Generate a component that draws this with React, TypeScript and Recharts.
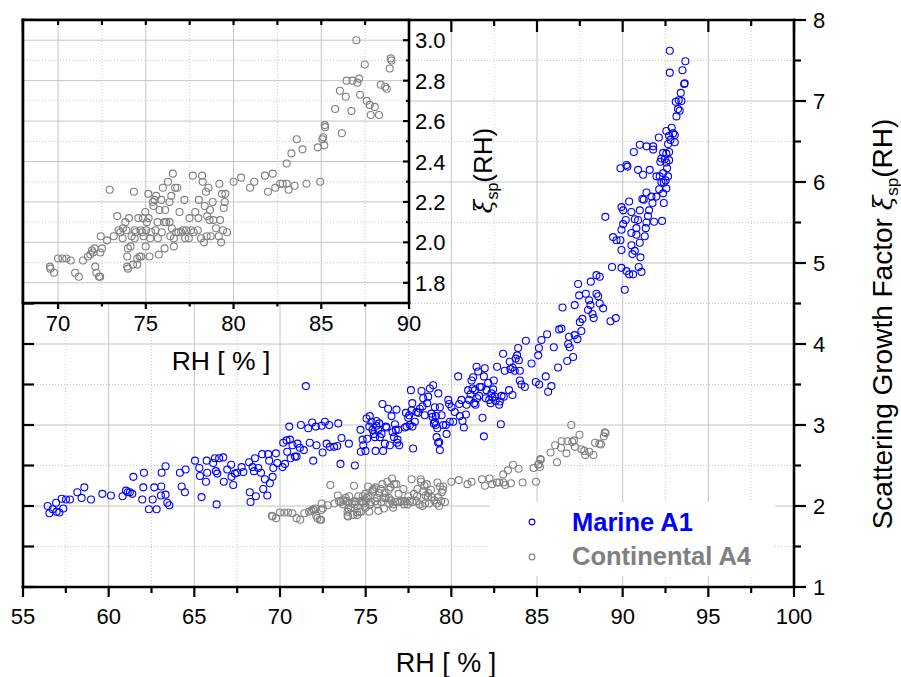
import React from 'react';
import { ScatterChart, Scatter, XAxis, YAxis, ReferenceLine, ReferenceDot, CartesianGrid } from 'recharts';

const FONT = '"Liberation Sans", Arial, Helvetica, sans-serif';

// ---------- series ----------
const seriesNames = ['Marine A1', 'Continental A4'];
const seriesColors = ['#0000FF', '#808080'];

// [RH %, scattering growth factor]
const marineA1: [number, number][] = [
  [56.44, 2.0], [56.54, 1.91], [56.73, 1.96], [56.93, 2.04], [56.96, 1.93], [57.12, 1.92], [57.26, 2.09], [57.35, 1.97],
  [57.51, 2.08], [57.74, 2.08], [58.17, 2.17], [58.42, 2.1], [58.58, 2.23], [58.97, 2.08], [59.63, 2.15], [60.13, 2.13],
  [60.81, 2.12], [61.01, 2.19], [61.11, 2.17], [61.24, 2.17], [61.38, 2.15], [61.44, 2.36], [61.96, 2.08], [62.02, 2.23],
  [62.06, 2.41], [62.35, 1.96], [62.57, 2.08], [62.66, 2.23], [62.8, 1.96], [63.05, 2.13], [63.07, 2.24], [63.09, 2.41],
  [63.32, 2.49], [63.32, 2.14], [63.42, 2.04], [63.54, 2.01], [64.16, 2.41], [64.26, 2.24], [64.45, 2.17], [64.49, 2.45],
  [65.04, 2.56], [65.29, 2.47], [65.33, 2.37], [65.42, 2.11], [65.68, 2.3], [65.72, 2.56], [65.75, 2.41], [66.1, 2.53],
  [66.2, 2.59], [66.26, 2.43], [66.3, 2.02], [66.34, 2.4], [66.45, 2.59], [66.69, 2.6], [66.72, 2.3], [66.92, 2.45],
  [67.15, 2.51], [67.17, 2.36], [67.27, 2.26], [67.37, 2.4], [67.5, 2.41], [67.76, 2.48], [67.86, 2.42], [68.2, 2.54],
  [68.24, 2.17], [68.28, 2.05], [68.4, 2.48], [68.48, 2.43], [68.54, 2.59], [68.59, 2.12], [68.73, 2.47], [68.89, 2.41],
  [68.96, 2.64], [69.02, 2.21], [69.12, 2.33], [69.26, 2.13], [69.31, 2.64], [69.37, 2.56], [69.41, 2.28], [69.57, 2.36],
  [69.61, 2.47], [69.76, 2.65], [69.84, 2.53], [70.15, 2.48], [70.19, 2.78], [70.29, 2.52], [70.38, 2.81], [70.42, 2.67],
  [70.54, 2.98], [70.58, 2.82], [70.62, 2.59], [70.73, 2.75], [70.87, 2.61], [70.97, 2.61], [71.02, 2.77], [71.16, 2.72],
  [71.22, 3.0], [71.39, 2.69], [71.51, 3.48], [71.65, 2.96], [71.74, 2.78], [71.88, 3.03], [71.94, 2.56], [72.09, 2.98],
  [72.13, 2.75], [72.43, 2.99], [72.49, 2.66], [72.62, 3.04], [72.72, 2.77], [72.87, 3.0], [72.91, 2.73], [73.16, 2.73],
  [73.34, 2.74], [73.4, 3.02], [73.53, 2.52], [73.59, 2.84], [74.02, 2.77], [74.37, 2.5], [74.7, 2.94], [74.72, 2.67],
  [74.82, 2.82], [74.86, 2.75], [74.99, 2.68], [75.05, 3.08], [75.09, 2.83], [75.21, 2.98], [75.24, 3.11], [75.4, 2.94],
  [75.48, 2.89], [75.58, 2.68], [75.63, 3.05], [75.73, 2.94], [75.83, 2.85], [75.98, 3.26], [76.02, 2.68], [76.12, 2.77],
  [76.22, 2.97], [76.31, 3.2], [76.41, 2.75], [76.51, 3.11], [76.57, 2.91], [76.71, 3.01], [76.8, 3.19], [76.86, 2.82],
  [76.9, 2.94], [76.96, 2.75], [77.29, 2.97], [77.35, 3.15], [77.54, 3.12], [77.64, 3.43], [77.72, 3.27], [77.73, 2.98],
  [77.77, 2.71], [77.97, 3.16], [78.26, 3.42], [78.32, 3.23], [78.36, 3.33], [78.45, 3.12], [78.65, 3.35], [78.75, 3.45],
  [78.94, 3.49], [78.98, 3.02], [79.04, 3.22], [79.1, 3.11], [79.14, 2.85], [79.18, 2.96], [79.24, 3.39], [79.29, 2.79],
  [79.33, 2.69], [79.52, 3.0], [79.72, 2.89], [79.82, 3.31], [79.87, 3.26], [80.11, 3.04], [80.2, 3.16],
  [75.34, 3.04], [75.54, 2.85], [75.63, 2.99], [75.79, 3.02], [75.93, 2.89], [76.18, 2.98], [76.65, 2.85], [76.76, 2.94],
  [76.84, 2.78], [77.39, 2.98], [77.48, 3.09], [77.58, 3.0], [77.68, 3.18], [77.87, 3.04], [78.07, 3.15], [78.16, 3.2],
  [78.59, 3.27], [78.84, 3.14], [78.9, 3.1], [79.04, 3.04], [79.1, 3.0], [79.23, 2.78], [79.33, 3.22], [79.43, 3.12],
  [79.68, 3.0], [79.91, 3.04], [80.01, 3.22],
  [80.4, 3.6], [80.46, 3.26], [80.5, 3.11], [80.59, 3.31], [80.65, 3.05], [80.73, 2.97], [80.85, 3.13], [80.89, 3.25],
  [80.98, 3.43], [81.04, 3.31], [81.12, 3.38], [81.18, 3.55], [81.24, 3.45], [81.27, 3.59], [81.33, 3.27], [81.37, 3.43],
  [81.41, 3.25], [81.47, 3.72], [81.51, 3.33], [81.57, 3.66], [81.62, 3.36], [81.66, 3.47], [81.76, 3.47], [81.82, 3.09],
  [81.9, 3.6], [81.9, 2.86], [81.95, 3.7], [82.01, 3.33], [82.05, 3.43], [82.15, 3.52], [82.21, 3.31], [82.29, 3.27],
  [82.34, 3.39], [82.4, 3.34], [82.44, 3.44], [82.48, 3.55], [82.54, 3.35], [82.58, 3.3], [82.67, 3.72], [82.79, 3.25],
  [82.83, 3.29], [82.89, 3.01], [82.93, 3.36], [83.02, 3.88], [83.06, 3.35], [83.12, 3.67], [83.37, 3.43], [83.41, 3.78],
  [83.45, 3.69], [83.57, 3.37], [83.57, 3.71], [83.7, 3.67], [83.76, 3.82], [83.84, 3.86], [83.9, 3.95], [83.94, 3.8],
  [84.0, 3.67], [84.0, 3.55], [84.09, 3.5], [84.29, 3.47], [84.35, 4.04], [84.68, 3.76], [84.93, 3.53], [85.07, 3.86],
  [85.11, 3.95], [85.13, 3.5], [85.26, 4.05], [85.51, 3.6], [85.59, 4.12], [85.65, 3.41], [85.84, 3.48], [85.98, 3.96],
  [86.23, 3.71], [86.29, 4.18], [86.43, 4.19], [86.49, 4.45], [86.76, 3.79], [86.82, 4.0], [86.87, 4.09], [86.91, 3.96],
  [87.11, 3.84], [87.2, 4.11], [87.2, 4.48], [87.36, 4.06], [87.46, 4.6], [87.5, 4.27], [87.59, 4.16], [87.65, 4.31],
  [87.85, 4.62], [87.98, 4.42], [88.04, 4.54], [88.12, 4.48], [88.24, 4.37], [88.31, 4.32], [88.47, 4.62], [88.57, 4.59],
  [88.66, 4.5], [88.86, 4.44], [89.29, 4.28], [89.6, 4.32],
  [92.75, 7.62], [93.66, 7.49], [92.75, 7.35], [93.49, 7.38], [93.62, 7.22], [93.59, 7.21], [93.39, 7.1], [93.1, 6.99],
  [93.27, 7.01], [93.43, 7.0], [93.23, 6.9], [93.33, 6.88], [93.14, 6.81], [92.86, 6.67], [92.94, 6.6], [93.04, 6.58],
  [92.55, 6.63], [92.71, 6.57], [92.79, 6.52], [93.04, 6.49], [92.65, 6.47], [92.11, 6.55], [91.0, 6.46], [91.39, 6.44],
  [91.78, 6.44], [91.78, 6.4], [90.65, 6.37], [92.71, 6.37], [92.36, 6.36], [92.55, 6.35], [92.26, 6.29], [92.46, 6.28],
  [92.71, 6.27], [92.2, 6.25], [92.55, 6.24], [90.22, 6.21], [89.87, 6.17], [90.28, 6.19], [90.9, 6.15], [91.58, 6.15],
  [91.19, 6.09], [92.36, 6.11], [92.59, 6.17], [91.97, 6.07], [92.16, 6.07], [92.65, 6.07], [92.26, 6.0], [92.4, 5.99],
  [92.51, 6.02], [92.55, 5.92], [92.13, 5.91], [92.36, 5.86], [91.39, 5.87], [91.68, 5.82], [91.97, 5.82], [91.15, 5.79],
  [91.23, 5.78], [91.74, 5.74], [92.4, 5.74], [90.38, 5.76], [89.93, 5.69], [90.03, 5.65], [90.51, 5.63], [91.0, 5.65],
  [91.54, 5.65], [91.48, 5.58], [88.99, 5.57], [90.71, 5.54], [90.18, 5.53], [90.03, 5.48], [90.9, 5.53], [91.83, 5.51],
  [92.3, 5.52], [91.39, 5.5], [89.93, 5.41], [90.8, 5.43], [91.35, 5.43], [90.51, 5.37], [89.44, 5.32], [89.64, 5.28],
  [89.87, 5.28], [90.8, 5.35], [91.29, 5.33], [91.0, 5.25], [90.51, 5.22], [89.93, 5.16], [90.71, 5.15], [90.57, 5.11],
  [91.04, 5.07], [89.38, 4.95], [89.93, 4.94], [90.22, 4.9], [90.94, 4.95], [91.1, 4.89], [90.61, 4.86], [90.38, 4.86],
  [90.12, 4.67], [88.47, 4.85], [88.66, 4.83], [88.14, 4.77], [87.4, 4.74],
];

const continentalA4: [number, number][] = [
  [69.53, 1.88], [69.56, 1.87], [69.77, 1.85], [70.0, 1.92], [70.25, 1.92], [70.47, 1.92], [70.72, 1.91], [70.97, 1.85],
  [71.18, 1.83], [71.42, 1.91], [71.7, 1.93], [71.84, 1.94], [71.93, 1.96], [72.08, 1.97], [71.99, 1.95], [72.12, 1.88],
  [72.18, 1.85], [72.33, 1.83], [72.4, 1.83], [72.41, 1.95], [72.5, 1.97], [72.43, 2.03], [72.79, 2.01], [72.94, 2.26],
  [73.17, 2.03], [73.37, 2.13], [73.45, 2.06], [73.55, 2.05], [73.68, 2.02], [73.7, 2.07], [73.83, 2.1], [73.89, 2.06],
  [73.94, 1.88], [73.98, 1.87], [73.94, 1.93], [73.98, 1.97], [74.04, 2.12], [74.13, 1.98], [74.19, 2.03], [74.27, 1.89],
  [74.32, 2.25], [74.36, 2.06], [74.36, 2.02], [74.42, 2.05], [74.51, 1.92], [74.51, 1.89], [74.57, 2.12], [74.64, 1.93],
  [74.7, 2.06], [74.74, 1.93], [74.8, 2.05], [74.83, 2.12], [74.87, 2.03], [74.97, 2.15], [74.99, 1.98], [75.02, 2.06],
  [75.06, 2.1], [75.14, 2.24], [75.16, 2.12], [75.21, 1.93], [75.25, 2.02], [75.31, 2.05], [75.4, 2.2], [75.44, 2.18],
  [75.5, 2.21], [75.55, 2.06], [75.59, 2.23], [75.67, 2.1], [75.69, 2.02], [75.74, 1.94], [75.78, 2.16], [75.88, 2.21],
  [75.91, 2.05], [75.97, 2.27], [76.05, 2.1], [76.07, 1.97], [76.1, 2.16], [76.16, 2.1], [76.26, 2.3], [76.35, 2.2],
  [76.35, 2.1], [76.39, 2.03], [76.45, 2.23], [76.48, 2.07], [76.54, 2.34], [76.6, 1.98], [76.6, 2.02], [76.67, 2.27],
  [76.79, 2.27], [76.73, 2.05], [76.86, 2.05], [76.92, 2.15], [77.01, 2.05], [77.11, 2.06], [77.2, 2.21], [77.24, 2.02],
  [77.3, 2.06], [77.45, 2.02], [77.49, 2.12], [77.58, 2.06], [77.68, 2.33], [77.73, 2.05], [77.82, 2.15], [77.96, 2.06],
  [78.0, 2.12], [78.02, 2.21], [78.15, 2.02], [78.21, 2.33], [78.24, 2.3], [78.32, 2.0], [78.36, 2.18], [78.43, 2.25],
  [78.47, 2.03], [78.5, 2.13], [78.57, 2.27], [78.63, 2.11], [78.66, 2.16], [78.7, 2.03], [78.81, 2.2], [78.85, 2.11],
  [79.0, 2.07], [79.16, 2.03], [79.19, 2.29], [79.23, 2.11], [79.29, 2.0], [79.34, 2.24], [79.4, 2.06], [79.44, 2.17],
  [79.5, 2.2], [79.53, 2.24], [79.63, 2.05], [80.0, 2.3], [80.43, 2.32], [80.94, 2.27], [81.18, 2.3], [81.79, 2.33],
  [81.96, 2.25], [82.23, 2.34], [82.38, 2.27], [82.66, 2.29], [82.8, 2.29], [83.03, 2.39], [83.03, 2.29], [83.14, 2.26],
  [83.3, 2.44], [83.48, 2.28], [83.6, 2.51], [83.93, 2.46], [84.16, 2.29], [84.8, 2.47], [84.94, 2.3], [85.07, 2.51],
  [85.11, 2.52], [85.17, 2.48], [85.2, 2.58], [85.22, 2.57], [85.79, 2.66], [86.06, 2.75], [86.17, 2.54], [86.4, 2.72],
  [86.44, 2.8], [86.72, 2.65], [86.78, 2.8], [87.0, 3.0], [87.06, 2.79], [87.16, 2.81], [87.21, 2.73], [87.48, 2.88],
  [87.59, 2.7], [87.76, 2.68], [87.82, 2.63], [88.05, 2.67], [88.29, 2.63], [88.39, 2.78], [88.64, 2.77], [88.73, 2.76],
  [88.9, 2.86], [88.96, 2.91], [89.0, 2.9],
];

// ---------- axes ----------
const mainXDomain: [number, number] = [55, 100];
const mainYDomain: [number, number] = [1, 8];
const mainXMajor = [55, 60, 65, 70, 75, 80, 85, 90, 95, 100];
const mainXMinor = [57.5, 62.5, 67.5, 72.5, 77.5, 82.5, 87.5, 92.5, 97.5];
const mainYMajor = [1, 2, 3, 4, 5, 6, 7, 8];
const mainYMinor = [1.5, 2.5, 3.5, 4.5, 5.5, 6.5, 7.5];
const mainXGridMajor = [60, 65, 70, 75, 80, 85, 90, 95];
const mainYGridMajor = [2, 3, 4, 5, 6, 7];

const insetXDomain: [number, number] = [68, 90];
const insetYDomain: [number, number] = [1.7, 3.1];
const insetXMajor = [70, 75, 80, 85, 90];
const insetXMinor = [72.5, 77.5, 82.5, 87.5];
const insetYMajor = [1.8, 2.0, 2.2, 2.4, 2.6, 2.8, 3.0];
const insetYMinor = [1.9, 2.1, 2.3, 2.5, 2.7, 2.9];
const insetXGridMajor = [70, 75, 80, 85];

const xTitle = 'RH [ % ]';

const toPoints = (arr: [number, number][]) => arr.map(([x, y]) => ({ x, y }));
const marineData = toPoints(marineA1);
const contData = toPoints(continentalA4);

const makeLabel =
  (dx: number, dy: number, anchor: 'start' | 'middle' | 'end', fmt: (v: number) => string) =>
  (props: any) => {
    const { x, y, payload } = props;
    return (
      <text x={x + dx} y={y + dy} textAnchor={anchor} fontFamily={FONT} fontSize={22} fill="#000">
        {fmt(Number(payload.value))}
      </text>
    );
  };

const ring = (color: string, r: number) => (p: any) => (
  <circle cx={p.cx} cy={p.cy} r={r} fill="none" stroke={color} strokeWidth={1.1} />
);

// tick mark drawn at a scaled anchor point, pointing along (dx, dy)
const tickMark = (dx: number, dy: number, len: number) => (p: any) => (
  <line x1={p.cx} y1={p.cy} x2={p.cx + dx * len} y2={p.cy + dy * len} stroke="#000" strokeWidth={2.2} />
);

const axisLine = { stroke: '#000', strokeWidth: 2.6, strokeLinecap: 'square' as const };
const frameLine = { stroke: '#000', strokeWidth: 2.6, strokeLinecap: 'square' as const, ifOverflow: 'visible' as const };
const majorGrid = { stroke: '#c4c4c4', strokeWidth: 1 };
const minorGrid = { stroke: '#c8c8c8', strokeWidth: 1, strokeDasharray: '1 2' };

const intFmt = (v: number) => String(v);
const oneFmt = (v: number) => v.toFixed(1);

type TickSet = { axis: 'x' | 'y'; values: number[]; at: number; dx: number; dy: number; len: number };

const renderTicks = (sets: TickSet[], xId: string, yId: string, prefix: string) =>
  sets.flatMap((s, si) =>
    s.values.map((v) => (
      <ReferenceDot
        key={`${prefix}-${si}-${v}`}
        xAxisId={xId}
        yAxisId={yId}
        x={s.axis === 'x' ? v : s.at}
        y={s.axis === 'x' ? s.at : v}
        r={0}
        ifOverflow="visible"
        shape={tickMark(s.dx, s.dy, s.len)}
      />
    ))
  );

const mainTickSets: TickSet[] = [
  { axis: 'x', values: mainXMajor, at: mainYDomain[0], dx: 0, dy: 1, len: 10 },
  { axis: 'x', values: mainXMinor, at: mainYDomain[0], dx: 0, dy: 1, len: 6 },
  { axis: 'x', values: mainXMajor, at: mainYDomain[1], dx: 0, dy: 1, len: 12 },
  { axis: 'x', values: mainXMinor, at: mainYDomain[1], dx: 0, dy: 1, len: 6 },
  { axis: 'y', values: mainYMajor, at: mainXDomain[1], dx: 1, dy: 0, len: 12 },
  { axis: 'y', values: mainYMinor, at: mainXDomain[1], dx: 1, dy: 0, len: 7 },
  { axis: 'y', values: mainYMajor, at: mainXDomain[0], dx: 1, dy: 0, len: 11 },
  { axis: 'y', values: mainYMinor, at: mainXDomain[0], dx: 1, dy: 0, len: 11 },
];

const insetTickSets: TickSet[] = [
  { axis: 'x', values: insetXMajor, at: insetYDomain[0], dx: 0, dy: 1, len: 6 },
  { axis: 'x', values: insetXMinor, at: insetYDomain[0], dx: 0, dy: 1, len: 3.5 },
  { axis: 'x', values: insetXMajor, at: insetYDomain[1], dx: 0, dy: 1, len: 5 },
  { axis: 'x', values: insetXMinor, at: insetYDomain[1], dx: 0, dy: 1, len: 5 },
  { axis: 'y', values: insetYMajor, at: insetXDomain[1], dx: -1, dy: 0, len: 6 },
  { axis: 'y', values: insetYMinor, at: insetXDomain[1], dx: -1, dy: 0, len: 3 },
];

function MainChart() {
  return (
    <ScatterChart width={901} height={677} margin={{ top: 20, right: 0, bottom: 0, left: 23 }}>
      <XAxis xAxisId="b" dataKey="x" type="number" orientation="bottom" domain={mainXDomain} allowDataOverflow ticks={mainXMajor} interval={0} height={90} stroke="#000" tickSize={10} tickMargin={0} tickLine={false} axisLine={axisLine} tick={makeLabel(0, 27, 'middle', intFmt)} />
      <YAxis yAxisId="r" dataKey="y" type="number" orientation="right" domain={mainYDomain} allowDataOverflow ticks={mainYMajor} interval={0} width={107} stroke="#000" tickSize={12} tickMargin={0} tickLine={false} axisLine={axisLine} tick={makeLabel(7, 8, 'start', intFmt)} />
      {mainXMinor.map((v) => (
        <ReferenceLine key={'xm' + v} xAxisId="b" yAxisId="r" x={v} {...minorGrid} />
      ))}
      {mainYMinor.map((v) => (
        <ReferenceLine key={'ym' + v} xAxisId="b" yAxisId="r" y={v} {...minorGrid} />
      ))}
      {mainXGridMajor.map((v) => (
        <ReferenceLine key={'xM' + v} xAxisId="b" yAxisId="r" x={v} {...majorGrid} />
      ))}
      {mainYGridMajor.map((v) => (
        <ReferenceLine key={'yM' + v} xAxisId="b" yAxisId="r" y={v} {...majorGrid} />
      ))}
      <ReferenceLine xAxisId="b" yAxisId="r" y={mainYDomain[1]} {...frameLine} />
      <ReferenceLine xAxisId="b" yAxisId="r" x={mainXDomain[0]} {...frameLine} />
      {renderTicks(mainTickSets, 'b', 'r', 'mt')}
      <Scatter name={seriesNames[1]} data={contData} xAxisId="b" yAxisId="r" shape={ring(seriesColors[1], 3.5)} isAnimationActive={false} />
      <Scatter name={seriesNames[0]} data={marineData} xAxisId="b" yAxisId="r" shape={ring(seriesColors[0], 3.5)} isAnimationActive={false} />
    </ScatterChart>
  );
}

function InsetChart() {
  return (
    <ScatterChart width={520} height={400} margin={{ top: 20, right: 0, bottom: 0, left: 23 }}>
      <CartesianGrid xAxisId="ib" yAxisId="ir" fill="#ffffff" horizontal={false} vertical={false} />
      <XAxis xAxisId="ib" dataKey="x" type="number" orientation="bottom" domain={insetXDomain} allowDataOverflow ticks={insetXMajor} interval={0} height={97} stroke="#000" tickSize={6} tickMargin={0} tickLine={false} axisLine={axisLine} tick={makeLabel(0, 22, 'middle', intFmt)} />
      <YAxis yAxisId="ir" dataKey="y" type="number" orientation="right" domain={insetYDomain} allowDataOverflow ticks={insetYMajor} interval={0} width={111} stroke="#000" tickSize={0} tickMargin={0} tickLine={false} axisLine={axisLine} tick={makeLabel(6, 8, 'start', oneFmt)} />
      {insetXMinor.map((v) => (
        <ReferenceLine key={'ixm' + v} xAxisId="ib" yAxisId="ir" x={v} {...minorGrid} />
      ))}
      {insetYMinor.map((v) => (
        <ReferenceLine key={'iym' + v} xAxisId="ib" yAxisId="ir" y={v} {...minorGrid} />
      ))}
      {insetXGridMajor.map((v) => (
        <ReferenceLine key={'ixM' + v} xAxisId="ib" yAxisId="ir" x={v} {...majorGrid} />
      ))}
      {insetYMajor.map((v) => (
        <ReferenceLine key={'iyM' + v} xAxisId="ib" yAxisId="ir" y={v} {...majorGrid} />
      ))}
      <ReferenceLine xAxisId="ib" yAxisId="ir" y={insetYDomain[1]} {...frameLine} />
      <ReferenceLine xAxisId="ib" yAxisId="ir" x={insetXDomain[0]} {...frameLine} />
      {renderTicks(insetTickSets, 'ib', 'ir', 'it')}
      <Scatter name={seriesNames[1]} data={contData} xAxisId="ib" yAxisId="ir" shape={ring(seriesColors[1], 3.5)} isAnimationActive={false} />
    </ScatterChart>
  );
}

function Titles() {
  const xi = (size: number, sub: number, dy: number) => [
    <tspan key="xi" fontStyle="italic" fontFamily='"DejaVu Serif", serif' fontSize={size * 0.95}>ξ</tspan>,
    <tspan key="sp" fontSize={sub} dy={dy}>sp</tspan>,
    <tspan key="rh" dy={-dy}>(RH)</tspan>,
  ];
  return (
    <svg width={901} height={677} style={{ position: 'absolute', left: 0, top: 0, pointerEvents: 'none' }}>
      <text x={446} y={672} textAnchor="middle" fontFamily={FONT} fontSize={27} fill="#000">{xTitle}</text>
      <text x={221} y={369.5} textAnchor="middle" fontFamily={FONT} fontSize={26.5} fill="#000">{xTitle}</text>
      <text transform="translate(892,324) rotate(-90)" textAnchor="middle" fontFamily={FONT} fontSize={28} fill="#000">
        {'Scattering Growth Factor '}
        {xi(28, 17, 6)}
      </text>
      <text transform="translate(492,170.5) rotate(-90)" textAnchor="middle" fontFamily={FONT} fontSize={26} fill="#000">
        {xi(26, 16, 6)}
      </text>
    </svg>
  );
}

function LegendBox() {
  return (
    <div style={{ position: 'absolute', left: 490, top: 502, width: 285, height: 74, background: '#fff' }}>
      <svg width={285} height={74}>
        {seriesNames.map((n, i) => (
          <g key={n}>
            <circle cx={42} cy={20 + i * 35} r={2.9} fill="none" stroke={seriesColors[i]} strokeWidth={1.1} />
            <text x={82} y={29 + i * 34} fontFamily={FONT} fontWeight={700} fontSize={25.5} fill={seriesColors[i]}>
              {n}
            </text>
          </g>
        ))}
      </svg>
    </div>
  );
}

export default function App() {
  return (
    <div style={{ position: 'absolute', left: 0, top: 0, width: 901, height: 677, background: '#fff', overflow: 'hidden' }}>
      <div style={{ position: 'absolute', left: 0, top: 0 }}>
        <MainChart />
      </div>
      <div style={{ position: 'absolute', left: 0, top: 0 }}>
        <InsetChart />
      </div>
      <LegendBox />
      <Titles />
    </div>
  );
}
